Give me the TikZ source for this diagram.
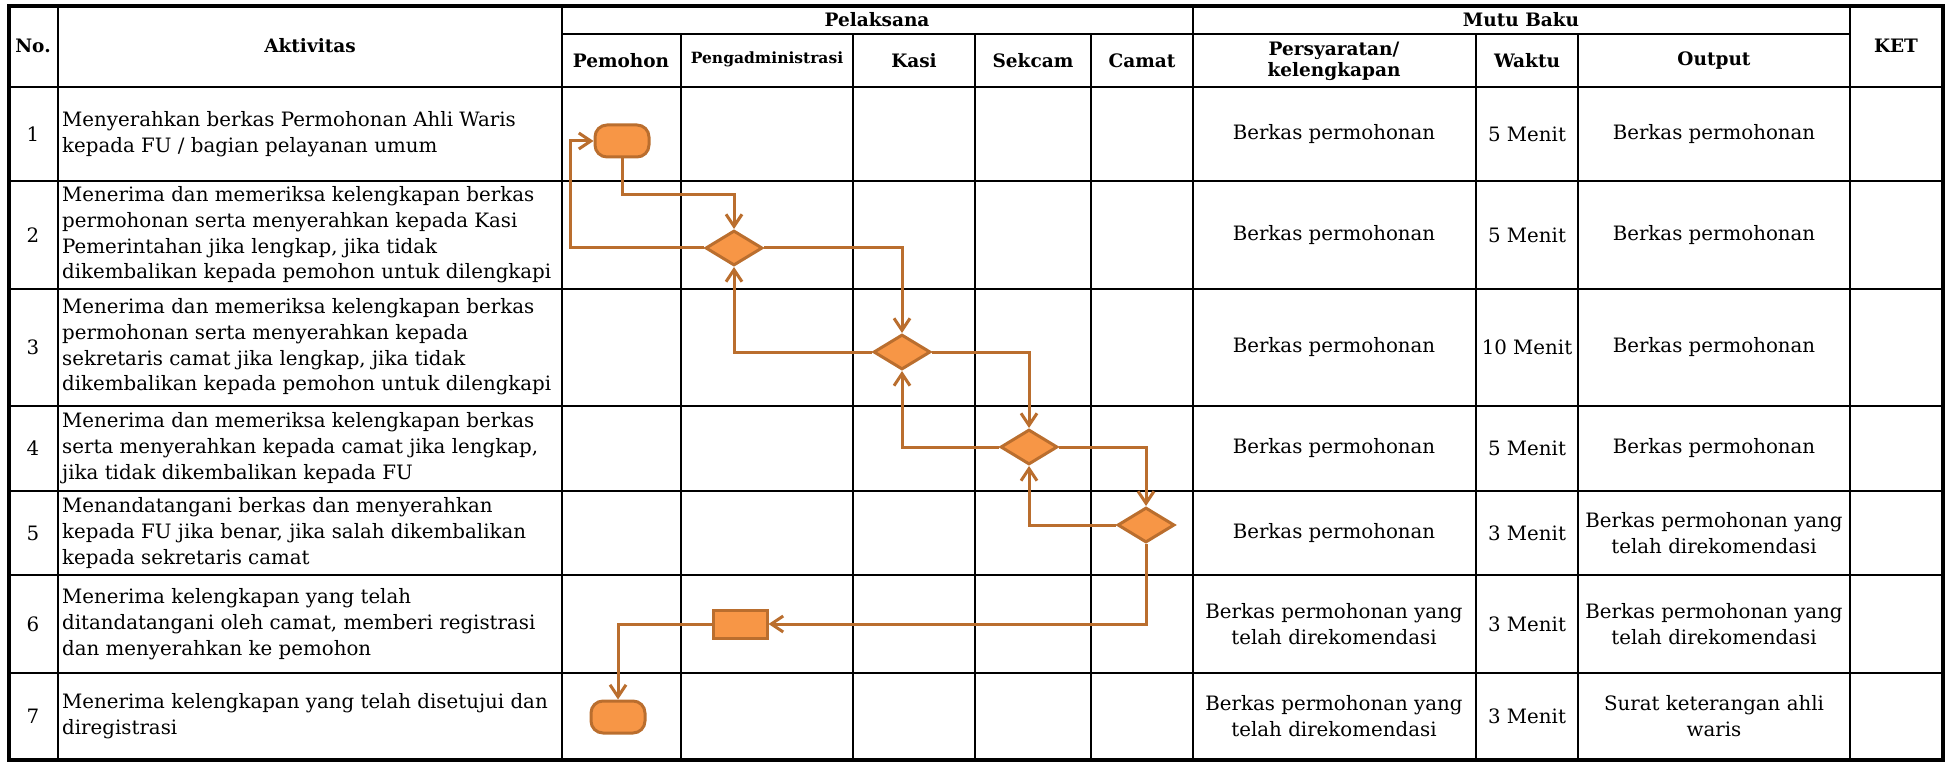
\documentclass[tikz,border=0pt]{standalone}
\usepackage{fontspec}
\usepackage{tikz}
\usepackage{xcolor}
\usetikzlibrary{positioning, arrows.meta, shapes.geometric}
\newfontfamily\headserif{DejaVu Serif}
\newfontfamily\bodyserif{DejaVu Serif}
\definecolor{flowfill}{HTML}{F79646}
\definecolor{flowline}{RGB}{186,110,46}

\begin{document}
\begin{tikzpicture}[x=1pt, y=-1pt,
    rule/.style={line width=1.8pt},
    frame/.style={line width=4pt},
    hd/.style={font=\headserif\bfseries\fontsize{18.5}{21}\selectfont, align=center, inner sep=0},
    cell/.style={font=\bodyserif\fontsize{19.8}{25.7}\selectfont, align=center, inner sep=0},
    act/.style={cell, align=left, anchor=west},
    term/.style={draw=flowline, fill=flowfill, line width=3pt, rounded corners=12pt, minimum width=54pt, minimum height=32pt, inner sep=0},
    dec/.style={draw=flowline, fill=flowfill, line width=3pt, diamond, minimum width=57pt, minimum height=35pt, inner sep=0},
    proc/.style={draw=flowline, fill=flowfill, line width=3pt, minimum width=54pt, minimum height=28pt, inner sep=0},
    flow/.style={draw=flowline, line width=3pt, -{Straight Barb[length=12pt, width=16pt]}}]
            \useasboundingbox (0, 0) rectangle (1952, 762);
            % table rules
            \foreach \y in {87, 181, 289, 406, 491, 575, 673}
                \draw[rule] (9, \y) -- (1943, \y);
            \draw[rule] (562, 34) -- (1850, 34);
            \foreach \x in {58, 562, 1193, 1850}
                \draw[rule] (\x, 6) -- (\x, 760);
            \foreach \x in {681, 853, 975, 1091, 1476, 1578}
                \draw[rule] (\x, 34) -- (\x, 760);
            \draw[frame] (9, 6) rectangle (1943, 760);
            % header
            \node [hd] (no) at (33, 46) {No.};
            \node [hd] (akt) at (310, 46) {Aktivitas};
            \node [hd] (pel) at (877, 20) {Pelaksana};
            \node [hd] (mutu) at (1521, 20) {Mutu Baku};
            \node [hd] (ket) at (1896, 46) {KET};
            \node [hd] (pem) at (621, 61) {Pemohon};
            \node [hd, font=\headserif\bfseries\fontsize{15.5}{17}\selectfont] (peng) at (767, 59) {Pengadministrasi};
            \node [hd] (kasi) at (914, 61) {Kasi};
            \node [hd] (sek) at (1033, 61) {Sekcam};
            \node [hd] (cam) at (1142, 61) {Camat};
            \node [hd] (syarat) at (1334, 61) {Persyaratan/\\kelengkapan};
            \node [hd] (wkt) at (1527, 61) {Waktu};
            \node [hd] (out) at (1714, 61) {Output};
            % rows
            \foreach \n/\y/\w in {1/134/5, 2/235/5, 3/347/10, 4/448/5, 5/533/3, 6/624/3, 7/716/3} {
                \node [cell] (no\n) at (33, \y) {\n};
                \node [cell] (wk\n) at (1527, \y) {\w\ Menit};
            }
            \node [act] (a1) at (62, 134) {Menyerahkan berkas Permohonan Ahli Waris\\kepada FU / bagian pelayanan umum};
            \node [act] (a2) at (62, 235) {Menerima dan memeriksa kelengkapan berkas\\permohonan serta menyerahkan kepada Kasi\\Pemerintahan jika lengkap, jika tidak\\dikembalikan kepada pemohon untuk dilengkapi};
            \node [act] (a3) at (62, 347) {Menerima dan memeriksa kelengkapan berkas\\permohonan serta menyerahkan kepada\\sekretaris camat jika lengkap, jika tidak\\dikembalikan kepada pemohon untuk dilengkapi};
            \node [act] (a4) at (62, 448) {Menerima dan memeriksa kelengkapan berkas\\serta menyerahkan kepada camat jika lengkap,\\jika tidak dikembalikan kepada FU};
            \node [act] (a5) at (62, 533) {Menandatangani berkas dan menyerahkan\\kepada FU jika benar, jika salah dikembalikan\\kepada sekretaris camat};
            \node [act] (a6) at (62, 624) {Menerima kelengkapan yang telah\\ditandatangani oleh camat, memberi registrasi\\dan menyerahkan ke pemohon};
            \node [act] (a7) at (62, 716) {Menerima kelengkapan yang telah disetujui dan\\diregistrasi};
            \foreach \n/\y in {1/134, 2/235, 3/347, 4/448, 5/533}
                \node [cell] (s\n) at (1334, \y) {Berkas permohonan};
            \node [cell] (s6) at (1334, 624) {Berkas permohonan yang\\telah direkomendasi};
            \node [cell] (s7) at (1334, 716) {Berkas permohonan yang\\telah direkomendasi};
            \foreach \n/\y in {1/134, 2/235, 3/347, 4/448}
                \node [cell] (o\n) at (1714, \y) {Berkas permohonan};
            \node [cell] (o5) at (1714, 533) {Berkas permohonan yang\\telah direkomendasi};
            \node [cell] (o6) at (1714, 624) {Berkas permohonan yang\\telah direkomendasi};
            \node [cell] (o7) at (1714, 716) {Surat keterangan ahli\\waris};
            % flow
            \node [term] (T1) at (622, 141) {};
            \node [dec] (D2) at (734, 248) {};
            \node [dec] (D3) at (902, 352) {};
            \node [dec] (D4) at (1029, 447) {};
            \node [dec] (D5) at (1146, 525) {};
            \node [proc] (P6) at (740, 624) {};
            \node [term] (T7) at (618, 717) {};
            \draw[flow] (T1.south) -- ++(0, 36) -| (D2.north);
            \draw[flow] (D2.west) -- ++(-134, 0) |- (T1.west);
            \draw[flow] (D2.east) -| (D3.north);
            \draw[flow] (D3.west) -| (D2.south);
            \draw[flow] (D3.east) -| (D4.north);
            \draw[flow] (D4.west) -| (D3.south);
            \draw[flow] (D4.east) -| (D5.north);
            \draw[flow] (D5.west) -| (D4.south);
            \draw[flow] (D5.south) |- (P6.east);
            \draw[flow] (P6.west) -| (T7.north);
        \end{tikzpicture}
\end{document}
